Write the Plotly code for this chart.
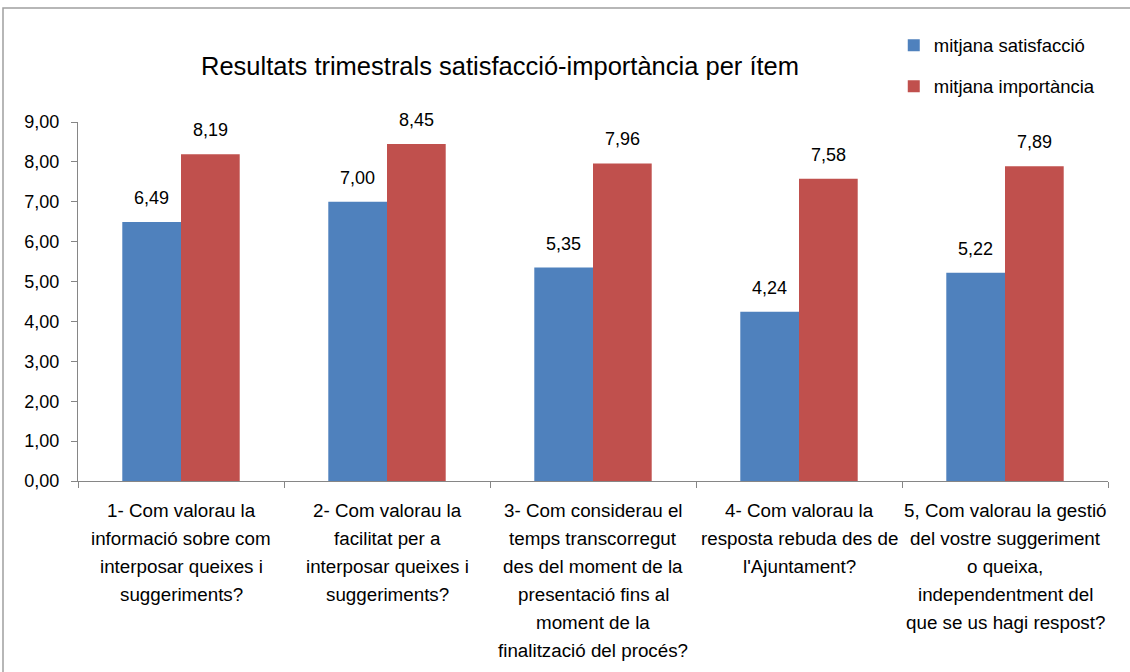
import plotly.graph_objects as go

categories = [
    "1- Com valorau la<br>informació sobre com<br>interposar queixes i<br>suggeriments?",
    "2- Com valorau la<br>facilitat per a<br>interposar queixes i<br>suggeriments?",
    "3- Com considerau el<br>temps transcorregut<br>des del moment de la<br>presentació fins al<br>moment de la<br>finalització del procés?",
    "4- Com valorau la<br>resposta rebuda des de<br>l'Ajuntament?",
    "5, Com valorau la gestió<br>del vostre suggeriment<br>o queixa,<br>independentment del<br>que se us hagi respost?",
]
cat_ids = ["c1", "c2", "c3", "c4", "c5"]
satisfaccio = [6.49, 7.00, 5.35, 4.24, 5.22]
importancia = [8.19, 8.45, 7.96, 7.58, 7.89]
series_names = ["mitjana satisfacció", "mitjana importància"]
colors = ["#4F81BD", "#C0504D"]
ytick_vals = [0, 1, 2, 3, 4, 5, 6, 7, 8, 9]

FONT = "Liberation Sans, Arial, sans-serif"

fig = go.Figure()
for i, (name, vals) in enumerate(zip(series_names, [satisfaccio, importancia])):
    fig.add_trace(go.Bar(
        x=cat_ids, y=vals, name=name, legendgroup=name,
        marker=dict(color=colors[i], line=dict(width=0)),
        hoverinfo="skip",
    ))

bar_px = 58.5
annotations = []
for i, vals in enumerate([satisfaccio, importancia]):
    for c, v in zip(cat_ids, vals):
        annotations.append(dict(
            x=c, y=v, xref="x", yref="y", text=f"{v:.2f}".replace(".", ","),
            showarrow=False, yanchor="bottom", xanchor="center",
            xshift=(i - 0.5) * bar_px, yshift=12,
            font=dict(family=FONT, size=18, color="#000000"),
        ))
for c, lab in zip(cat_ids, categories):
    for j, line in enumerate(lab.split("<br>")):
        annotations.append(dict(
            x=c, y=0, xref="x", yref="y", text=line, showarrow=False,
            yanchor="middle", xanchor="center", yshift=-29 - j * 28,
            font=dict(family=FONT, size=18.8, color="#000000"),
        ))

annotations.append(dict(
    x=0.41, y=1.155, xref="paper", yref="paper",
    text="Resultats trimestrals satisfacció-importància per ítem",
    showarrow=False, xanchor="center", yanchor="middle",
    font=dict(family=FONT, size=25.5, color="#000000"),
))

fig.update_layout(
    width=1130, height=672,
    margin=dict(l=78, r=22, t=122, b=191),
    paper_bgcolor="white", plot_bgcolor="white",
    separators=",.",
    barmode="group", bargap=0.43, bargroupgap=0,
    showlegend=True,
    legend=dict(
        x=0.792, y=1.2655, xanchor="left", yanchor="top",
        font=dict(family=FONT, size=18.5, color="#000000"),
        tracegroupgap=14, traceorder="grouped",
        bgcolor="rgba(0,0,0,0)",
    ),
    annotations=annotations,
    shapes=[dict(
        type="rect", xref="paper", yref="paper",
        x0=(3 - 78) / 1030, x1=1.2, y0=-1, y1=(481 - 8) / 359,
        line=dict(color="#A0A0A0", width=1.5), fillcolor="rgba(0,0,0,0)", layer="below",
    )],
)
fig.update_xaxes(
    type="category", showticklabels=False, tickson="boundaries",
    ticks="outside", ticklen=6, tickcolor="#868686",
    showline=True, linecolor="#868686", linewidth=1.3,
    showgrid=False, zeroline=False, range=[-0.5, 4.5],
)
fig.update_yaxes(
    range=[0, 9], tickvals=ytick_vals, tickformat=".2f",
    ticks="outside", ticklen=6, tickcolor="#868686",
    showline=True, linecolor="#868686", linewidth=1.3,
    showgrid=False, zeroline=False, ticklabelstandoff=8,
    tickfont=dict(family=FONT, size=18, color="#000000"),
)

fig.write_html("out.html", config={"displayModeBar": False},
               post_script="document.body.style.margin='0';")
